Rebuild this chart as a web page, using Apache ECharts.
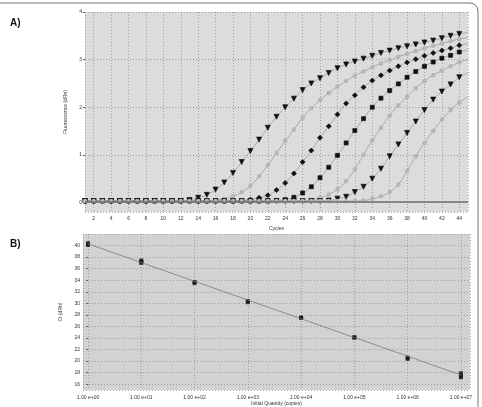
<!DOCTYPE html>
<html>
<head>
<meta charset="utf-8">
<script src="https://cdn.jsdelivr.net/npm/echarts@6/dist/echarts.min.js"></script>
<style>
html,body{margin:0;padding:0;background:#fff;}
#chart{width:482px;height:407px;}
</style>
</head>
<body>
<div id="chart"></div>
<script>
// 扩增曲线 (A)
var cycles = [1,2,3,4,5,6,7,8,9,10,11,12,13,14,15,16,17,18,19,20,21,22,23,24,25,26,27,28,29,30,31,32,33,34,35,36,37,38,39,40,41,42,43,44,45];
var curve1 = [0.03,0.03,0.03,0.03,0.03,0.03,0.03,0.03,0.03,0.03,0.03,0.03,0.05,0.10,0.16,0.27,0.42,0.62,0.85,1.08,1.32,1.57,1.80,2.00,2.18,2.36,2.50,2.61,2.72,2.82,2.90,2.96,3.02,3.08,3.14,3.19,3.24,3.28,3.32,3.36,3.40,3.45,3.50,3.54,3.57];
var curve2 = [0.03,0.03,0.03,0.03,0.03,0.03,0.03,0.03,0.03,0.03,0.03,0.03,0.03,0.03,0.03,0.05,0.08,0.13,0.22,0.35,0.55,0.78,1.04,1.29,1.53,1.78,1.98,2.15,2.30,2.43,2.55,2.66,2.75,2.84,2.92,2.99,3.06,3.12,3.18,3.24,3.29,3.34,3.39,3.43,3.46];
var curve3 = [0.03,0.03,0.03,0.03,0.03,0.03,0.03,0.03,0.03,0.03,0.03,0.03,0.03,0.03,0.03,0.03,0.03,0.03,0.04,0.06,0.10,0.15,0.26,0.41,0.61,0.85,1.09,1.36,1.60,1.85,2.08,2.25,2.42,2.56,2.67,2.77,2.86,2.94,3.01,3.08,3.14,3.19,3.24,3.30,3.34];
var curve4 = [0.03,0.03,0.03,0.03,0.03,0.03,0.03,0.03,0.03,0.03,0.03,0.03,0.03,0.03,0.03,0.03,0.03,0.03,0.03,0.03,0.03,0.03,0.04,0.06,0.11,0.20,0.33,0.52,0.74,0.99,1.25,1.51,1.76,2.00,2.19,2.35,2.49,2.63,2.75,2.86,2.95,3.03,3.09,3.16,3.20];
var curve5 = [0.03,0.03,0.03,0.03,0.03,0.03,0.03,0.03,0.03,0.03,0.03,0.03,0.03,0.03,0.03,0.03,0.03,0.03,0.03,0.03,0.03,0.03,0.03,0.03,0.03,0.04,0.06,0.10,0.17,0.28,0.45,0.70,1.00,1.30,1.57,1.82,2.04,2.22,2.40,2.55,2.67,2.77,2.86,2.94,3.00];
var curve6 = [0.03,0.03,0.03,0.03,0.03,0.03,0.03,0.03,0.03,0.03,0.03,0.03,0.03,0.03,0.03,0.03,0.03,0.03,0.03,0.03,0.03,0.03,0.03,0.03,0.03,0.03,0.03,0.03,0.04,0.08,0.12,0.22,0.33,0.50,0.71,0.97,1.22,1.46,1.70,1.94,2.16,2.33,2.48,2.63,2.72];
var curve7 = [0.03,0.03,0.03,0.03,0.03,0.03,0.03,0.03,0.03,0.03,0.03,0.03,0.03,0.03,0.03,0.03,0.03,0.03,0.03,0.03,0.03,0.03,0.03,0.03,0.03,0.03,0.03,0.03,0.03,0.03,0.03,0.03,0.04,0.08,0.13,0.22,0.38,0.66,0.97,1.25,1.50,1.74,1.94,2.10,2.22];
var threshold = 0.02;

// 标准曲线 (B)
var quantities = [1,10,100,1000,10000,100000,1000000,10000000];
var ctRep1 = [40.4,37.4,33.7,30.4,27.5,24.1,20.6,17.9];
var ctRep2 = [40.1,37.0,33.5,30.2,27.5,24.1,20.4,17.5];
var ctRep3 = [null,37.2,null,null,null,null,null,17.2];
var fitQuantity = [1,10000000];
var fitCt = [40.3,17.6];

var myChart = echarts.init(document.getElementById('chart'));
var font = 'Liberation Sans';
var gridColor = '#8f8f8f';

function pairs(xs, ys){
	var out = [];
	for(var i=0;i<xs.length;i++){
		if(ys[i]!=null){ out.push([xs[i], ys[i]]); }
	}
	return out;
}
function logPairs(xs, ys){
	var out = [];
	for(var i=0;i<xs.length;i++){
		if(ys[i]!=null){ out.push([Math.log10(xs[i]), ys[i]]); }
	}
	return out;
}
// 最后一个循环不画标记
function markerUntil44(sym){
	return function(v, p){ return p.dataIndex < 44 ? sym : 'none'; };
}
function ampSeries(data, sym, color, size, rotate){
	return {
		type:'line', xAxisIndex:0, yAxisIndex:0,
		data: pairs(cycles, data),
		smooth: true,
		symbol: markerUntil44(sym),
		symbolSize: size,
		symbolRotate: rotate || 0,
		lineStyle:{color:'#9a9a9a', width:0.8},
		itemStyle:{color:color, borderColor:color, borderWidth:0.7},
		z: 3
	};
}

var axisLabelStyle = {fontSize:5, color:'#333', fontFamily:font};

var option = {
	animation:false,
	backgroundColor:'#fff',
	graphic:[
		{type:'rect', shape:{x:-10, y:3, width:488, height:430, r:8}, style:{fill:'none', stroke:'#777', lineWidth:1}},
		{type:'text', left:10, top:18, style:{text:'A)', font:'bold 10px "Liberation Sans"', fill:'#111'}},
		{type:'text', left:10, top:239, style:{text:'B)', font:'bold 10px "Liberation Sans"', fill:'#111'}}
	],
	grid:[
		{left:85, right:14, top:12, height:200, show:true, backgroundColor:'#dcdcdc', borderWidth:0},
		{left:83, right:12, top:234, height:159, show:true, backgroundColor:'#d2d2d2', borderWidth:0}
	],
	xAxis:[
		{
			type:'value', gridIndex:0, min:1, max:45, splitNumber:22,
			name:'Cycles', nameLocation:'middle', nameGap:14,
			nameTextStyle:{fontSize:5, color:'#333', fontFamily:font},
			axisLine:{show:false}, axisTick:{show:false},
			axisLabel:Object.assign({margin:4, showMinLabel:false, showMaxLabel:false}, axisLabelStyle),
			splitLine:{show:true, lineStyle:{color:gridColor, type:[1,2], width:0.8}}
		},
		{
			type:'value', gridIndex:1, min:-0.094, max:7.17, splitNumber:7,
			name:'Initial Quantity (copies)', nameLocation:'middle', nameGap:11,
			nameTextStyle:{fontSize:5, color:'#333', fontFamily:font},
			axisLine:{show:false}, axisTick:{show:false},
			axisLabel:Object.assign({margin:5, showMinLabel:false, showMaxLabel:false,
				formatter:function(v){ return Math.abs(v-Math.round(v))<1e-6 ? '1.00 e+0'+Math.round(v) : ''; }}, axisLabelStyle),
			splitLine:{show:true, lineStyle:{color:gridColor, type:[1,2], width:0.8}}
		}
	],
	yAxis:[
		{
			type:'value', gridIndex:0, min:-0.2, max:4, splitNumber:4,
			name:'Fluorescence (dRn)', nameLocation:'middle', nameGap:6,
			nameTextStyle:{fontSize:5, color:'#333', fontFamily:font},
			axisLine:{show:false},
			axisTick:{show:true, length:2, lineStyle:{color:'#666'}},
			axisLabel:Object.assign({margin:3, showMinLabel:false}, axisLabelStyle),
			splitLine:{show:true, lineStyle:{color:gridColor, type:[1,2], width:0.8}}
		},
		{
			type:'value', gridIndex:1, min:15, max:42, splitNumber:13,
			name:'Ct (dRn)', nameLocation:'middle', nameGap:12,
			nameTextStyle:{fontSize:5, color:'#333', fontFamily:font},
			axisLine:{show:false},
			axisTick:{show:true, length:2, lineStyle:{color:'#666'}},
			axisLabel:Object.assign({margin:3, showMinLabel:false, showMaxLabel:false}, axisLabelStyle),
			splitLine:{show:true, lineStyle:{color:gridColor, type:[1,2], width:0.8}}
		}
	],
	series:[
		(function(){
			var s = ampSeries(curve1, 'triangle', '#111', 5, 180);
			s.markLine = {silent:true, symbol:'none', label:{show:false},
				lineStyle:{color:'#6e6e6e', width:1.5, type:'solid'},
				data:[{yAxis:threshold}]};
			return s;
		})(),
		ampSeries(curve2, 'emptyCircle', '#b4b4b4', 2.5),
		ampSeries(curve3, 'diamond', '#111', 5),
		ampSeries(curve4, 'rect', '#111', 4),
		ampSeries(curve5, 'emptyCircle', '#b4b4b4', 2.5),
		ampSeries(curve6, 'triangle', '#111', 5, 180),
		ampSeries(curve7, 'emptyCircle', '#b4b4b4', 2.5),
		{
			type:'line', xAxisIndex:1, yAxisIndex:1,
			data: logPairs(fitQuantity, fitCt),
			symbol:'none',
			lineStyle:{color:'#7a7a7a', width:0.8}
		},
		{
			type:'scatter', xAxisIndex:1, yAxisIndex:1,
			data: logPairs(quantities, ctRep1).concat(logPairs(quantities, ctRep2), logPairs(quantities, ctRep3)),
			symbol:'rect', symbolSize:[4,4],
			itemStyle:{color:'#111'}
		}
	]
};
myChart.setOption(option);
</script>
</body>
</html>
